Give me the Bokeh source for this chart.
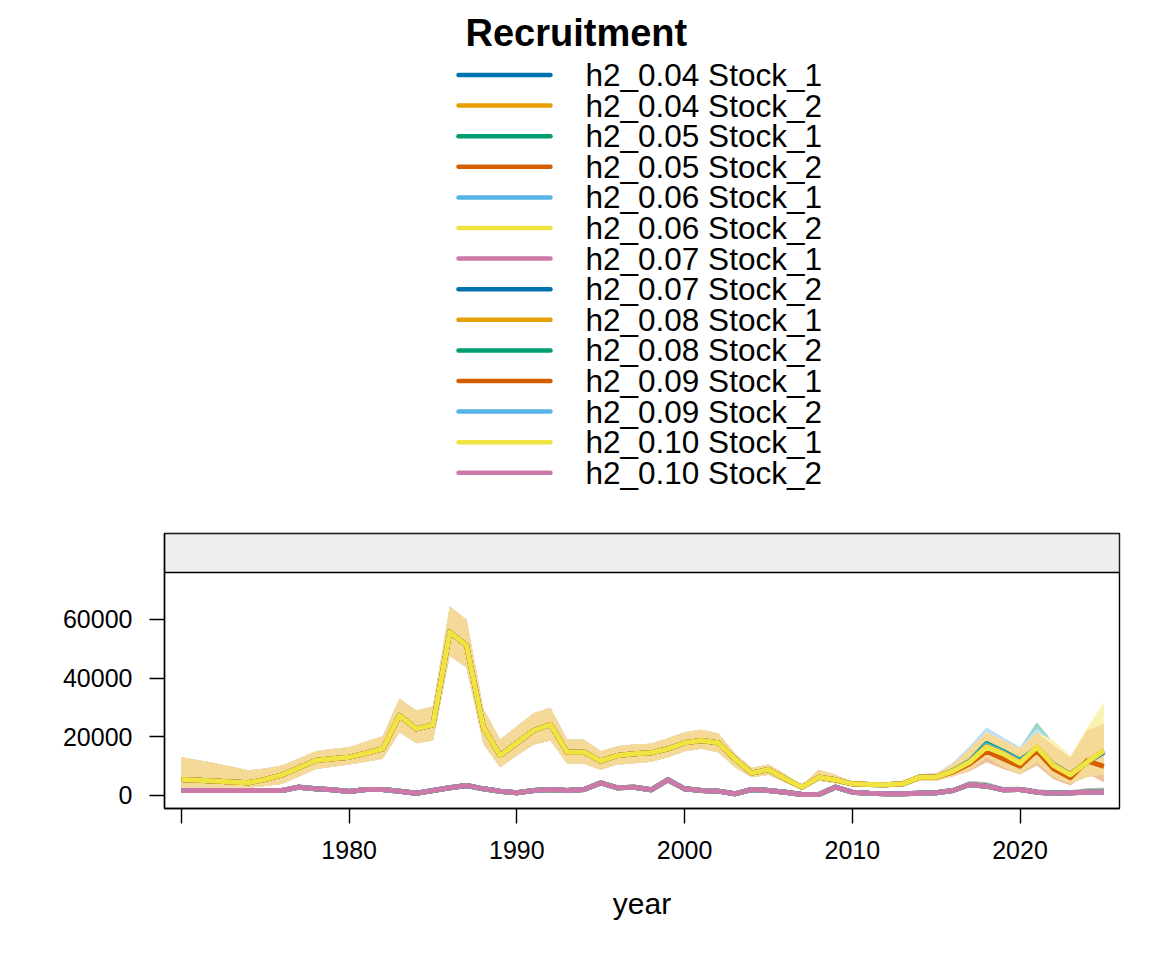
import numpy as np
from bokeh.plotting import figure
from bokeh.models import (ColumnDataSource, Range1d, FixedTicker,
                          NumeralTickFormatter, BoxAnnotation, Label)
from bokeh.layouts import column
from bokeh.core.properties import value
from bokeh.embed import file_html
from bokeh.resources import INLINE

FONT = "Liberation Sans"

# ---------------- data ----------------
years = list(range(1970, 2026))
tick_years = [1970, 1980, 1990, 2000, 2010, 2020]
y_ticks = [0, 20000, 40000, 60000]

h2_levels = ["0.04", "0.05", "0.06", "0.07", "0.08", "0.09", "0.10"]
stocks = ["Stock_1", "Stock_2"]
series_names = [f"h2_{h} {s}" for h in h2_levels for s in stocks]
palette = ["#0072B2", "#E69F00", "#009E73", "#D55E00", "#56B4E9", "#F0E442", "#CC79A7"]
series_colors = [palette[i % 7] for i in range(len(series_names))]

# Stock_1 (shared 1970-2015)
s1_base_rec = [5450, 5200, 4900, 4600, 4320, 5500, 7040, 9430, 11920, 12500,
               13060, 14400, 15900, 27260, 22710, 24080, 55650, 51100, 23280, 13630,
               17900, 22150, 24190, 14770, 14770, 11700, 13630, 14200, 14540, 15900,
               17940, 18740, 17940, 12490, 7610, 8860, 5680, 2840, 6250, 5340,
               3970, 3750, 3630, 3970, 6250, 6250]
s1_base_lo = [2800, 2800, 2750, 2700, 2700, 3200, 4000, 6500, 9000, 9800,
              10560, 11500, 12490, 21580, 17830, 18740, 47700, 43500, 17600, 9650,
              13630, 17380, 18740, 10790, 10790, 8740, 10560, 11020, 11470, 13000,
              15110, 15900, 14770, 9650, 6250, 7040, 4430, 1930, 5000, 4200,
              3180, 3070, 3070, 3070, 5000, 5000]
s1_base_hi = [13060, 12000, 11000, 9800, 8520, 9200, 10220, 12600, 15110, 15800,
              16470, 18300, 20210, 32930, 28960, 30320, 64390, 59850, 29530, 18970,
              23620, 28050, 29870, 18970, 18970, 15110, 16810, 17380, 17600, 19500,
              21580, 22370, 21240, 14200, 9430, 10560, 7270, 3410, 8740, 7040,
              4540, 4540, 4540, 4540, 7270, 7500]

# Stock_1 2016-2025, one row per h2 level (0.04 ... 0.10)
s1_tail_rec = [
    [8400, 11600, 17500, 14900, 11800, 16100, 10400, 7100, 11300, 14800],   # 0.04
    [8400, 11700, 17700, 15000, 11900, 16200, 10500, 7200, 11400, 15000],   # 0.05
    [8350, 11500, 17200, 14700, 11600, 16300, 10400, 7100, 11350, 15200],   # 0.06
    [8300, 11400, 16700, 14300, 11200, 16400, 10300, 7050, 11400, 15300],   # 0.07
    [8300, 11400, 16600, 14250, 11100, 16450, 10250, 7050, 11380, 15350],   # 0.08
    [8000, 10800, 15110, 12490, 9990, 15330, 9090, 6020, 11800, 9900],      # 0.09
    [8290, 11360, 16470, 14200, 11020, 16470, 10220, 7040, 11360, 15400],   # 0.10
]
s1_tail_lo = [
    [6800, 9000, 13300, 10300, 8000, 11600, 6500, 4200, 6400, 7300],
    [6800, 9000, 13300, 10300, 8000, 11600, 6500, 4200, 6400, 7300],
    [6800, 8900, 13200, 10200, 7900, 11500, 6400, 4100, 6400, 7300],
    [6700, 8800, 13000, 10000, 7800, 11500, 6400, 4100, 6300, 7300],
    [6700, 8520, 12950, 9650, 7270, 11360, 6250, 3970, 6250, 7270],
    [6500, 8300, 11350, 9000, 7150, 10220, 5500, 3400, 7500, 4540],
    [6700, 8800, 13000, 10000, 7800, 11500, 6500, 4200, 6500, 7300],
]
s1_tail_hi = [
    [11000, 16300, 22600, 19300, 16300, 24000, 17500, 12800, 22300, 24300],
    [11000, 16500, 22800, 19500, 16470, 24980, 18000, 13000, 22500, 24500],
    [11200, 16800, 23280, 19800, 16470, 23000, 17800, 12900, 22400, 24400],
    [10900, 16000, 21800, 18900, 16000, 21800, 17500, 13000, 22830, 24600],
    [10790, 15900, 21580, 18740, 15900, 21580, 17040, 12950, 22150, 24420],
    [10500, 15000, 20500, 17500, 14500, 21000, 16000, 11500, 21000, 22000],
    [10790, 15900, 21580, 18740, 15900, 21580, 18740, 13500, 23000, 31800],
]

# Stock_2 (all h2 levels nearly identical)
s2_rec = [1700, 1700, 1700, 1700, 1700, 1700, 1700, 2840, 2270, 1930,
          1360, 2040, 2040, 1480, 790, 1700, 2610, 3410, 2270, 1480,
          910, 1700, 2040, 1700, 2040, 4320, 2610, 2840, 1930, 5340,
          2270, 1700, 1480, 570, 2040, 1700, 1140, 340, 340, 2840,
          1140, 790, 570, 570, 790, 910, 1700, 3750, 3180, 1930,
          2040, 1140, 790, 910, 1140, 1140]
s2_lo = [1200, 1200, 1200, 1200, 1200, 1200, 1200, 2200, 1800, 1500,
         1000, 1600, 1600, 1100, 450, 1300, 2100, 2800, 1800, 1100,
         600, 1300, 1600, 1300, 1600, 3600, 2100, 2300, 1500, 4600,
         1800, 1300, 1100, 300, 1600, 1300, 800, 100, 100, 2300,
         800, 500, 300, 300, 500, 600, 1300, 3000, 2500, 1400,
         1500, 700, 400, 500, 600, 600]
s2_hi = [2300, 2300, 2300, 2300, 2300, 2300, 2400, 3800, 2900, 2500,
         1900, 2600, 2600, 2000, 1200, 2300, 3300, 4300, 2900, 2000,
         1400, 2300, 2600, 2300, 2600, 5200, 3300, 3500, 2500, 6200,
         2900, 2300, 2000, 1000, 2600, 2300, 1600, 800, 800, 3500,
         1600, 1200, 1000, 1000, 1200, 1400, 2400, 4900, 4500, 2900,
         3000, 2100, 1600, 1800, 2500, 2600]


def tint(hex_color, a=0.4):
    h = hex_color.lstrip("#")
    rgb = [int(h[i:i + 2], 16) for i in (0, 2, 4)]
    return "#" + "".join(f"{round(255 - a * (255 - c)):02x}" for c in rgb)


series = []
for k, name in enumerate(series_names):
    j = k // 2
    if k % 2 == 0:
        rec = s1_base_rec + s1_tail_rec[j]
        lo = s1_base_lo + s1_tail_lo[j]
        hi = s1_base_hi + s1_tail_hi[j]
    else:
        rec, lo, hi = s2_rec, s2_lo, s2_hi
    series.append(dict(name=name, color=series_colors[k],
                       src=ColumnDataSource(dict(year=years, rec=rec, lo=lo, hi=hi))))

# layout constants (page pixels)
FIG_W = 1136
LEFT, RIGHT = 164, 17
LEG_H = 508

# ---------------- main panel ----------------
p = figure(width=FIG_W, height=430, output_backend="svg", toolbar_location=None,
           x_range=Range1d(1968.99, 2025.93), y_range=Range1d(-4430, 89260),
           min_border_left=LEFT, min_border_right=RIGHT, min_border_top=25,
           min_border_bottom=130)
p.background_fill_color = "white"
p.border_fill_color = "white"
p.outline_line_color = "black"
p.outline_line_width = 1.4
p.xgrid.grid_line_color = None
p.ygrid.grid_line_color = None

# strip on top of the panel
p.add_layout(BoxAnnotation(bottom=75980, fill_color="#EEEEEE", fill_alpha=1.0,
                           line_color="black", line_alpha=1.0, line_width=1.4,
                           level="underlay"))

# Stock_1 bands (opaque tints), orange one on top
for k in [0, 2, 4, 6, 10, 12, 8]:
    s = series[k]
    p.varea(x="year", y1="lo", y2="hi", source=s["src"],
            fill_color=tint(s["color"]), fill_alpha=1.0)
# Stock_2 bands (semi-transparent)
for k in [1, 3, 5, 7, 9, 11, 13]:
    s = series[k]
    p.varea(x="year", y1="lo", y2="hi", source=s["src"],
            fill_color=s["color"], fill_alpha=0.13)

# lines
for k in [0, 2, 4, 6, 8, 10, 12, 1, 3, 5, 7, 9, 11, 13]:
    s = series[k]
    p.line(x="year", y="rec", source=s["src"], line_color=s["color"],
           line_width=5, line_join="round")

for ax in (p.xaxis[0], p.yaxis[0]):
    ax.axis_line_color = "black"
    ax.axis_line_width = 1.4
    ax.major_tick_line_color = "black"
    ax.major_tick_line_width = 1.4
    ax.major_tick_in = 0
    ax.major_tick_out = 15
    ax.minor_tick_in = 0
    ax.minor_tick_out = 0
    ax.major_label_text_font = FONT
    ax.major_label_text_font_size = "25px"
    ax.major_label_text_color = "black"
    ax.axis_label_text_font = FONT
    ax.axis_label_text_font_size = "30px"
    ax.axis_label_text_font_style = "normal"
    ax.axis_label_text_color = "black"

p.xaxis.ticker = FixedTicker(ticks=tick_years)
p.xaxis.major_label_overrides = {1970: ""}
p.xaxis.major_label_standoff = 17
p.xaxis.axis_label = "year"
p.xaxis.axis_label_standoff = 25
p.yaxis.ticker = FixedTicker(ticks=y_ticks)
p.yaxis.formatter = NumeralTickFormatter(format="0")
p.yaxis.major_label_standoff = 17

# ---------------- legend panel ----------------
lg = figure(width=FIG_W, height=LEG_H, output_backend="svg", toolbar_location=None,
            x_range=Range1d(LEFT, FIG_W - RIGHT), y_range=Range1d(LEG_H, 0),
            x_axis_type=None, y_axis_type=None,
            min_border_left=LEFT, min_border_right=RIGHT,
            min_border_top=0, min_border_bottom=0)
lg.outline_line_color = None
lg.background_fill_color = "white"
lg.border_fill_color = "white"

row = np.arange(len(series_names))
row_y = 74.5 + row * 30.6
leg_src = ColumnDataSource(dict(
    x0=[458] * len(row), x1=[550] * len(row), tx=[585] * len(row),
    y=list(row_y), name=series_names, color=series_colors))
lg.segment(x0="x0", y0="y", x1="x1", y1="y", source=leg_src,
           line_color="color", line_width=4.5, line_cap="round")
lg.text(x="tx", y="y", text="name", source=leg_src,
        text_font=value(FONT), text_font_size=value("31.5px"),
        text_baseline="middle", text_align="left", text_color="black")
lg.add_layout(Label(x=465, y=32, text="Recruitment", text_font=FONT,
                    text_font_size="38px", text_font_style="bold",
                    text_baseline="middle", text_align="left",
                    text_color="black"))

layout = column(lg, p)
open("out.html", "w").write(file_html(layout, INLINE))
